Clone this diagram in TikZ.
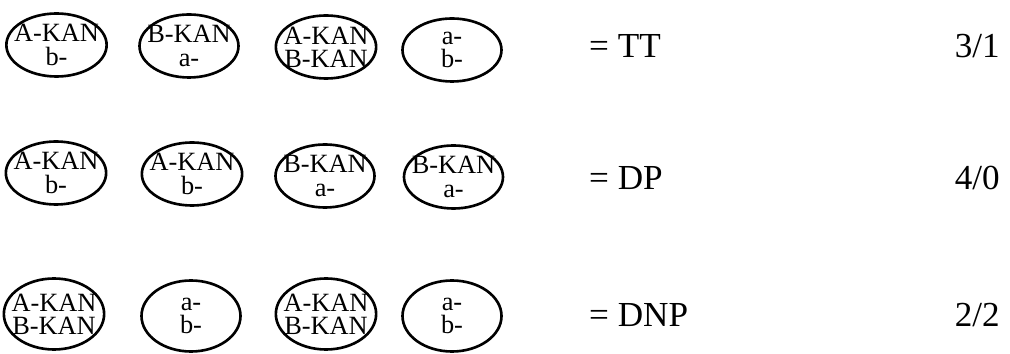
\documentclass[tikz,border=0pt]{standalone}
\usepackage{fontspec}
\setmainfont{Liberation Serif}
\usetikzlibrary{shapes.geometric}

\begin{document}
\begin{tikzpicture}[
  kan/.style={ellipse,draw,line width=1.5pt,inner xsep=-0.14cm,inner ysep=-0.03cm,
    minimum width=1.98cm,minimum height=1.26cm,align=center,
    font=\fontsize{15}{13.2}\selectfont},
  tall/.style={minimum height=1.42cm},
  res/.style={anchor=west,font=\fontsize{20}{24}\selectfont},
  score/.style={anchor=east,font=\fontsize{20}{24}\selectfont}]
\useasboundingbox (0,0) rectangle (20.2,-7.08);
% row 1
\node[kan] (tt1) at (1.13,-0.90) {A-KAN\\b-};
\node[kan] (tt2) at (3.78,-0.92) {B-KAN\\a-};
\node[kan] (tt3) at (6.52,-0.94) {A-KAN\\B-KAN};
\node[kan] (tt4) at (9.04,-1.00) {a-\\b-};
\node[res] (ttres) at (11.66,-0.92) {= TT};
\node[score] (ttscore) at (20.12,-0.92) {3/1};
% row 2
\node[kan] (dp1) at (1.12,-3.46) {A-KAN\\b-};
\node[kan] (dp2) at (3.84,-3.48) {A-KAN\\b-};
\node[kan] (dp3) at (6.50,-3.52) {B-KAN\\a-};
\node[kan] (dp4) at (9.07,-3.54) {B-KAN\\a-};
\node[res] (dpres) at (11.66,-3.56) {= DP};
\node[score] (dpscore) at (20.12,-3.56) {4/0};
% row 3
\node[kan,tall] (dnp1) at (1.08,-6.28) {A-KAN\\B-KAN};
\node[kan,tall] (dnp2) at (3.82,-6.32) {a-\\b-};
\node[kan,tall] (dnp3) at (6.52,-6.28) {A-KAN\\B-KAN};
\node[kan,tall] (dnp4) at (9.04,-6.32) {a-\\b-};
\node[res] (dnpres) at (11.66,-6.30) {= DNP};
\node[score] (dnpscore) at (20.12,-6.30) {2/2};
\end{tikzpicture}
\end{document}
